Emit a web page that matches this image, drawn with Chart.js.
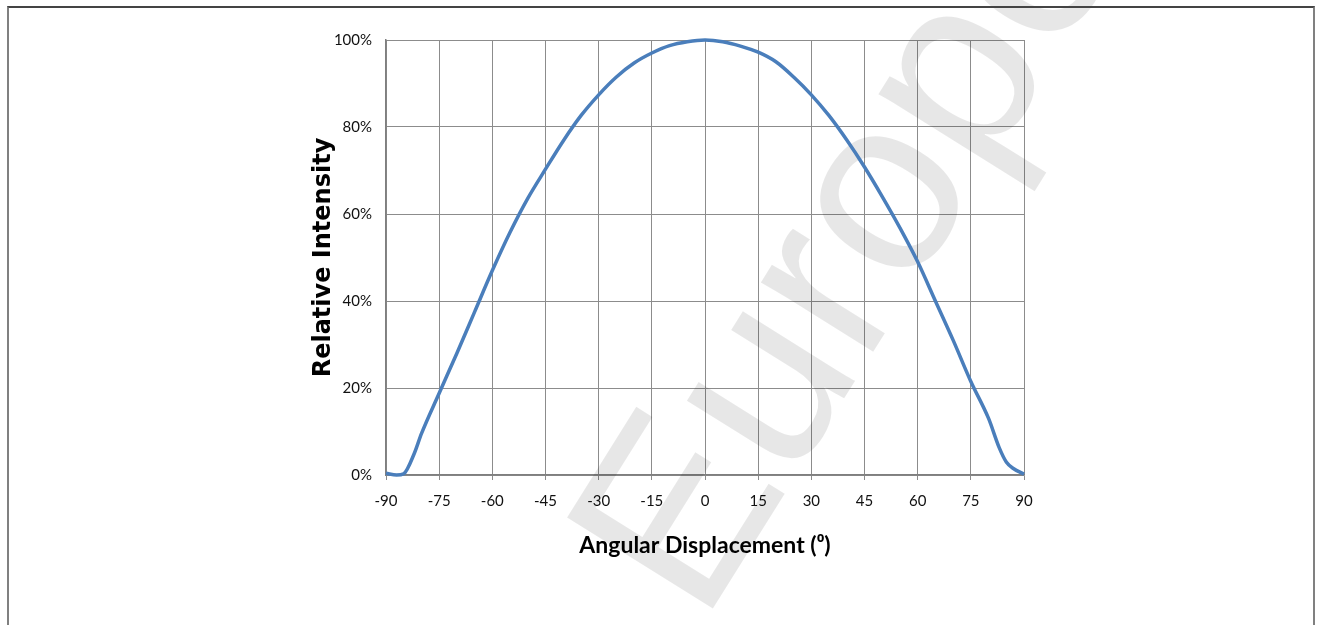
<!DOCTYPE html>
<html>
<head>
<meta charset="utf-8">
<script src="https://cdn.jsdelivr.net/npm/chart.js@4/dist/chart.umd.min.js"></script>
<style>
  html, body { margin: 0; padding: 0; background: #fff; }
  #wrap { position: relative; width: 1320px; height: 625px; overflow: hidden; }
  #chart { position: absolute; left: 0; top: 0; }
  #frame {
    position: absolute; left: 7px; top: 6px; width: 1304px; height: 700px;
    border-top: 2px solid #444; border-left: 2px solid #808080; border-right: 2px solid #808080;
    pointer-events: none;
  }
</style>
</head>
<body>
<div id="wrap">
  <canvas id="chart" width="1320" height="625"></canvas>
  <div id="frame"></div>
</div>
<script>
// angle (degrees) and relative intensity (%)
const angles = [-90, -87, -85, -82, -80, -75, -70, -65, -60, -55, -50, -45, -40, -35, -30, -25, -20, -15, -10, -5,
  0, 5, 10, 15, 20, 25, 30, 35, 40, 45, 50, 55, 60, 65, 70, 75, 80, 83, 85, 87, 90];
const intensity = [0.4, 0, 0.3, 5, 9.5, 18.8, 28, 37.5, 47, 55.8, 63.6, 70.3, 76.8, 82.6, 87.4, 91.5, 94.7, 97, 98.7, 99.6,
  100, 99.6, 98.6, 97.2, 95, 91.5, 87.4, 82.6, 77, 70.8, 64, 56.8, 49, 40, 31, 21.5, 13, 6.3, 3, 1.5, 0.2];

const xTitle = "Angular Displacement (\u2070)";
const yTitle = "Relative Intensity";
const watermark = "Europe";

const gridColor = "#8c8c8c";
const tickFont = { family: "Lato, 'Liberation Sans', sans-serif", size: 15 };

// faint diagonal watermark behind the curve
const watermarkPlugin = {
  id: "watermark",
  beforeDatasetsDraw(chart) {
    const ctx = chart.ctx;
    ctx.save();
    ctx.font = "250px 'Liberation Sans', Arial, sans-serif";
    ctx.fillStyle = "rgba(0,0,0,0.095)";
    ctx.textBaseline = "alphabetic";
    ctx.translate(945, 237);
    ctx.rotate(-58 * Math.PI / 180);
    const off = ctx.measureText("Eur").width + ctx.measureText("o").width / 2;
    ctx.fillText(watermark, -off, 0);
    ctx.restore();
  }
};

const points = angles.map((a, i) => ({ x: a, y: intensity[i] }));

new Chart(document.getElementById("chart"), {
  type: "line",
  data: {
    datasets: [{
      data: points,
      borderColor: "#4a7ebb",
      borderWidth: 3.5,
      pointRadius: 0,
      fill: false,
      cubicInterpolationMode: "monotone",
      clip: false
    }]
  },
  options: {
    responsive: false,
    animation: false,
    events: [],
    layout: { padding: { left: 306, right: 296, top: 40, bottom: 50 } },
    plugins: { legend: { display: false }, tooltip: { enabled: false } },
    scales: {
      x: {
        type: "linear",
        min: -90,
        max: 90,
        afterFit(scale) { scale.height = 100; },
        ticks: { stepSize: 15, color: "#111", font: tickFont, padding: 12, maxRotation: 0 },
        grid: { color: gridColor, lineWidth: 1, tickLength: 5, tickColor: gridColor },
        border: { color: "#7f7f7f", width: 1.5 },
        title: {
          display: true,
          text: xTitle,
          color: "#000",
          font: { family: "Lato, 'Liberation Sans', sans-serif", size: 23, weight: "bold" },
          padding: { top: 0, bottom: 16 }
        }
      },
      y: {
        min: 0,
        max: 100,
        afterFit(scale) { scale.width = 80; },
        ticks: {
          stepSize: 20,
          color: "#111",
          font: tickFont,
          padding: 14,
          callback: v => v + "%"
        },
        grid: { color: gridColor, lineWidth: 1, drawTicks: false },
        border: { color: "#7f7f7f", width: 1.5 },
        title: {
          display: true,
          text: yTitle,
          color: "#000",
          font: { family: "'DejaVu Sans', Verdana, sans-serif", size: 24, weight: "bold" },
          padding: { top: 3, bottom: 0 }
        }
      }
    }
  },
  plugins: [watermarkPlugin]
});
</script>
</body>
</html>
